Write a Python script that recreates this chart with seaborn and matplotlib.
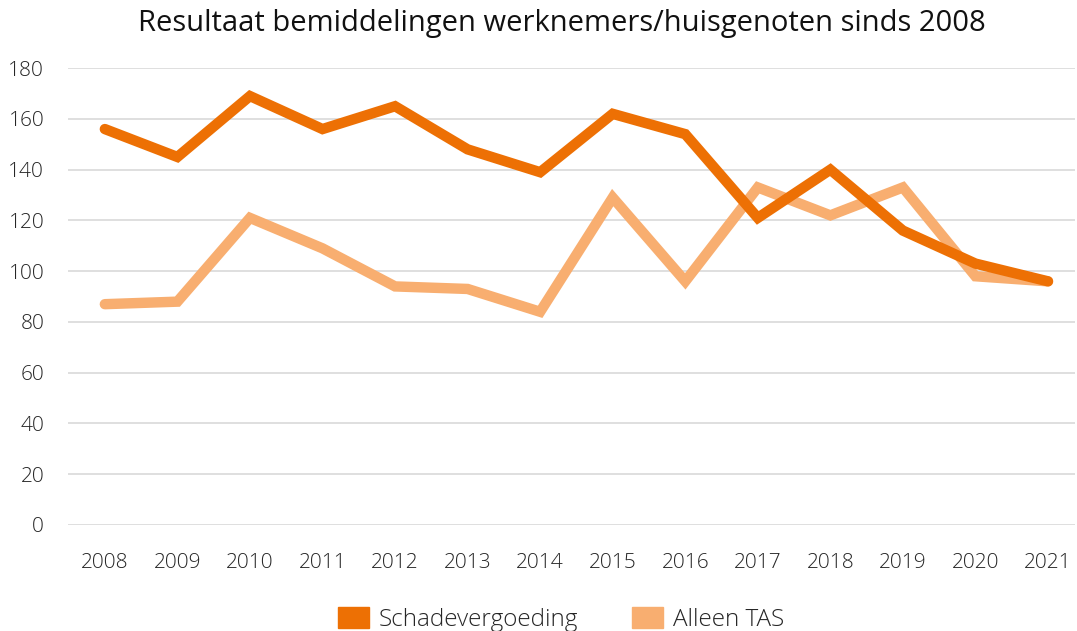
import matplotlib.pyplot as plt
import matplotlib.patches as mpatches
import pandas as pd
import seaborn as sns

# data
years = [2008, 2009, 2010, 2011, 2012, 2013, 2014, 2015, 2016, 2017, 2018, 2019, 2020, 2021]
schadevergoeding = [156, 145, 169, 156, 165, 148, 139, 162, 154, 121, 140, 116, 103, 96]
alleen_tas = [87, 88, 121, 109, 94, 93, 84, 129, 96, 133, 122, 133, 98, 96]
series_names = ['Schadevergoeding', 'Alleen TAS']
colors = {'Schadevergoeding': '#ED7004', 'Alleen TAS': '#F8AE70'}

df = pd.DataFrame({
    'year': years * 2,
    'value': schadevergoeding + alleen_tas,
    'serie': [series_names[0]] * len(years) + [series_names[1]] * len(years),
})

sns.set_theme(style='white')
plt.rcParams['font.family'] = ['Open Sans', 'DejaVu Sans']

fig = plt.figure(figsize=(10.77, 6.31), dpi=100)
ax = fig.add_axes([0.063, 0.168, 0.935, 0.724])

# light line below, dark line on top
for name in series_names[::-1]:
    sub = df[df['serie'] == name]
    sns.lineplot(data=sub, x='year', y='value', color=colors[name], linewidth=7.5,
                 ax=ax, legend=False, solid_capstyle='round', solid_joinstyle='miter')

ax.set_xlim(2007.49, 2021.37)
ax.set_ylim(0, 180)
ax.set_yticks(range(0, 181, 20))
ax.set_xticks(years)
ax.set_xticklabels([str(y) for y in years])
ax.grid(axis='y', color='#d9d9d9', linewidth=1.2)
ax.set_axisbelow(True)
for s in ax.spines.values():
    s.set_visible(False)
ax.tick_params(axis='both', length=0, labelsize=15, labelcolor='#262626')
ax.tick_params(axis='y', pad=17)
ax.tick_params(axis='x', pad=20)
for lbl in ax.get_yticklabels() + ax.get_xticklabels():
    lbl.set_fontweight('light')
ax.set_xlabel('')
ax.set_ylabel('')

fig.suptitle('Resultaat bemiddelingen werknemers/huisgenoten sinds 2008',
             x=0.522, y=0.985, fontsize=21, color='#111111')

handles = [mpatches.Patch(color=colors[n], label=n) for n in series_names]
leg = fig.legend(handles=handles, loc='center', bbox_to_anchor=(0.521, 0.018), ncol=2,
                 frameon=False, fontsize=17.5, handlelength=1.28, handleheight=0.95,
                 columnspacing=2.2, handletextpad=0.42)
for t in leg.get_texts():
    t.set_fontweight('light')
    t.set_color('#262626')

fig.savefig('out.png', dpi=100)
